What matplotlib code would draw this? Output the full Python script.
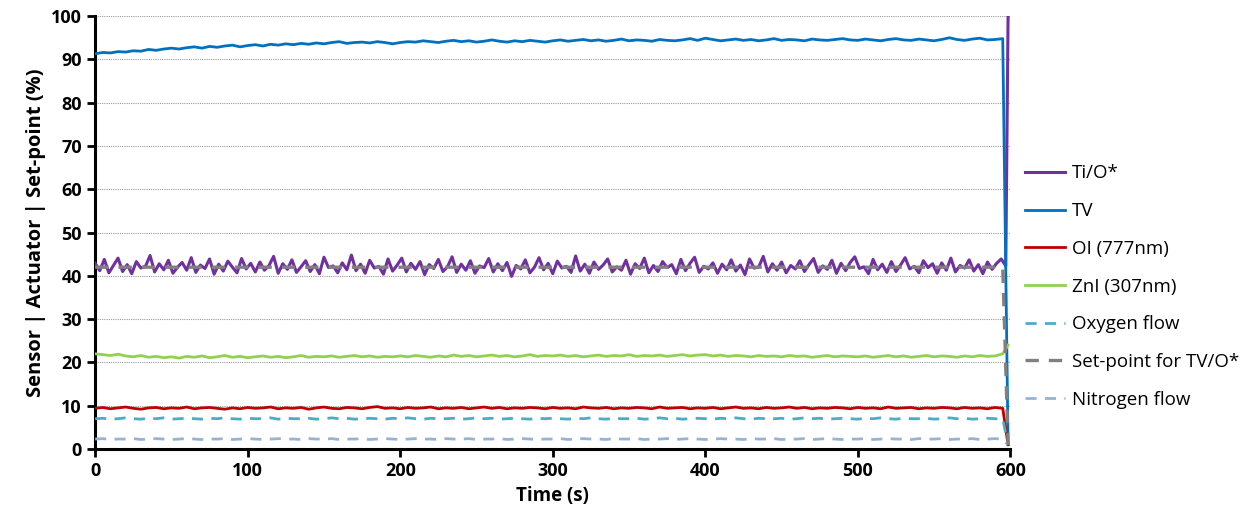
import numpy as np
import matplotlib.pyplot as plt

plt.rcParams['font.family'] = ['Open Sans', 'DejaVu Sans']

# time bases (s); the Ti/O* trace is logged more densely
t = np.arange(0, 600, 5)
t_ti = np.arange(0, 600, 3)
t_end = 598.5

ti_o = [42.9, 41.2, 43.8, 40.7, 42.4, 44.1, 41.0, 42.6, 40.5, 43.3, 41.8, 42.2, 44.7, 40.9, 42.8, 41.4, 43.6, 40.6, 42.0, 43.1,
        41.3, 44.2, 40.8, 42.5, 41.7, 43.9, 40.4, 42.7, 41.1, 43.4, 42.0, 40.7, 44.0, 41.6, 42.9, 40.9, 43.2, 41.3, 42.4, 44.5,
        40.6, 42.8, 41.5, 43.7, 40.8, 42.1, 43.5, 41.0, 42.6, 40.5, 44.3, 41.9, 42.3, 40.7, 43.0, 41.4, 44.8, 41.2, 42.7, 40.6,
        43.6, 41.8, 42.2, 40.4, 43.9, 41.1, 42.5, 44.1, 40.9, 42.9, 41.5, 43.3, 40.3, 42.6, 41.7, 43.8, 41.0, 42.1, 44.4, 40.8,
        42.7, 41.3, 43.5, 40.6, 42.3, 41.9, 44.0, 40.9, 42.8, 41.2, 43.1, 39.9, 42.4, 41.6, 43.7, 40.7, 42.0, 44.2, 41.4, 42.9,
        40.5, 43.4, 41.8, 42.2, 40.8, 44.6, 41.1, 42.7, 40.6, 43.2, 41.5, 42.5, 43.9, 40.9, 42.1, 41.3, 43.6, 40.4, 42.8, 41.7,
        44.1, 40.7, 42.4, 41.0, 43.3, 41.9, 42.6, 40.5, 43.8, 41.2, 42.9, 44.3, 40.8, 42.2, 41.6, 43.0, 40.6, 42.7, 41.4, 43.7,
        41.1, 42.5, 40.3, 43.9, 41.8, 42.0, 44.5, 40.9, 42.8, 41.3, 43.2, 40.7, 42.4, 41.6, 43.5, 41.0, 42.6, 44.0, 40.8, 42.3,
        41.5, 43.6, 40.6, 42.9, 41.2, 43.1, 44.4, 41.7, 42.1, 40.5, 43.8, 41.4, 42.7, 40.8, 43.3, 41.0, 42.5, 44.2, 41.6, 42.2,
        40.7, 43.5, 41.9, 42.8, 40.6, 43.0, 41.3, 44.1, 40.9, 42.4, 41.8, 43.7, 41.1, 42.6, 40.5, 43.2, 41.5, 42.9, 43.9, 42.3]
tv = [91.3, 91.6, 91.5, 91.8, 91.7, 92.0, 91.9, 92.3, 92.1, 92.4, 92.6, 92.4, 92.7, 92.9, 92.6, 93.0, 92.8, 93.1, 93.3, 92.9,
      93.2, 93.4, 93.1, 93.5, 93.3, 93.6, 93.4, 93.7, 93.5, 93.8, 93.6, 93.9, 94.1, 93.7, 93.9, 94.0, 93.8, 94.1, 93.9, 93.6,
      93.9, 94.1, 94.0, 94.3, 94.1, 93.9, 94.2, 94.4, 94.1, 94.3, 94.0, 94.2, 94.5, 94.2, 94.0, 94.3, 94.1, 94.4, 94.2, 94.0,
      94.3, 94.5, 94.2, 94.4, 94.6, 94.3, 94.5, 94.2, 94.4, 94.7, 94.3, 94.5, 94.4, 94.2, 94.6, 94.4, 94.3, 94.5, 94.8, 94.4,
      94.9, 94.6, 94.3, 94.5, 94.7, 94.4, 94.6, 94.3, 94.5, 94.8, 94.4, 94.6, 94.5, 94.3, 94.7, 94.5, 94.4, 94.6, 94.8, 94.5,
      94.4, 94.7, 94.5, 94.3, 94.6, 94.8, 94.5, 94.4, 94.7, 94.5, 94.3, 94.6, 95.0, 94.6, 94.4, 94.7, 94.9, 94.5, 94.6, 94.8]
oi_777 = [9.4, 9.6, 9.3, 9.5, 9.7, 9.4, 9.2, 9.5, 9.6, 9.3, 9.5, 9.4, 9.7, 9.3, 9.5, 9.6, 9.4, 9.2, 9.5, 9.3,
          9.6, 9.4, 9.5, 9.7, 9.3, 9.5, 9.4, 9.6, 9.2, 9.5, 9.7, 9.4, 9.3, 9.6, 9.5, 9.3, 9.6, 9.8, 9.4, 9.5,
          9.3, 9.6, 9.4, 9.5, 9.7, 9.3, 9.5, 9.4, 9.6, 9.3, 9.5, 9.7, 9.4, 9.6, 9.3, 9.5, 9.4, 9.6, 9.5, 9.3,
          9.6, 9.4, 9.5, 9.3, 9.7, 9.5, 9.4, 9.6, 9.3, 9.5, 9.4, 9.6, 9.5, 9.3, 9.7, 9.4, 9.5, 9.6, 9.3, 9.5,
          9.4, 9.6, 9.3, 9.5, 9.7, 9.4, 9.5, 9.3, 9.6, 9.4, 9.5, 9.7, 9.4, 9.6, 9.3, 9.5, 9.4, 9.6, 9.5, 9.3,
          9.6, 9.4, 9.5, 9.3, 9.7, 9.4, 9.5, 9.6, 9.3, 9.5, 9.4, 9.6, 9.5, 9.3, 9.6, 9.4, 9.5, 9.3, 9.6, 9.4]
zn_307 = [22.0, 21.8, 21.6, 21.9, 21.5, 21.3, 21.6, 21.2, 21.4, 21.1, 21.3, 21.0, 21.4, 21.2, 21.5, 21.1, 21.3, 21.6, 21.2, 21.4,
          21.1, 21.3, 21.5, 21.2, 21.4, 21.1, 21.3, 21.6, 21.2, 21.4, 21.3, 21.5, 21.2, 21.4, 21.6, 21.3, 21.5, 21.2, 21.4, 21.3,
          21.5, 21.3, 21.6, 21.4, 21.2, 21.5, 21.3, 21.7, 21.4, 21.6, 21.3, 21.5, 21.7, 21.4, 21.6, 21.3, 21.5, 21.8, 21.4, 21.6,
          21.5, 21.7, 21.4, 21.6, 21.3, 21.5, 21.7, 21.4, 21.6, 21.5, 21.8, 21.4, 21.6, 21.5, 21.7, 21.4, 21.6, 21.8, 21.5, 21.7,
          21.8, 21.5, 21.7, 21.4, 21.6, 21.5, 21.3, 21.6, 21.4, 21.5, 21.3, 21.6, 21.4, 21.5, 21.2, 21.4, 21.6, 21.3, 21.5, 21.4,
          21.3, 21.5, 21.2, 21.4, 21.6, 21.3, 21.5, 21.2, 21.4, 21.6, 21.3, 21.5, 21.4, 21.2, 21.5, 21.3, 21.6, 21.4, 21.5, 22.0]
oxygen = [7.0, 7.1, 6.9, 7.0, 7.2, 7.0, 6.9, 7.1, 7.0, 7.2, 6.9, 7.0, 7.1, 7.0, 6.9, 7.1, 7.0, 7.2, 7.0, 6.9,
          7.1, 7.0, 7.0, 7.2, 6.9, 7.1, 7.0, 7.0, 7.1, 6.9, 7.0, 7.2, 7.0, 7.1, 6.9, 7.0, 7.1, 7.0, 6.9, 7.1,
          7.0, 7.2, 7.0, 6.9, 7.1, 7.0, 7.0, 7.1, 6.9, 7.0, 7.2, 7.0, 7.1, 6.9, 7.0, 7.1, 7.0, 6.9, 7.1, 7.0,
          7.1, 7.0, 6.9, 7.1, 7.0, 7.2, 7.0, 6.9, 7.1, 7.0, 7.0, 7.1, 6.9, 7.0, 7.2, 7.0, 7.1, 6.9, 7.0, 7.1,
          7.0, 6.9, 7.1, 7.0, 7.2, 7.0, 6.9, 7.1, 7.0, 7.0, 7.1, 6.9, 7.0, 7.2, 7.0, 7.1, 6.9, 7.0, 7.1, 7.0,
          6.9, 7.1, 7.0, 7.2, 7.0, 6.9, 7.1, 7.0, 7.0, 7.1, 6.9, 7.0, 7.2, 7.0, 7.1, 6.9, 7.0, 7.1, 7.0, 7.0]
nitrogen = [2.3, 2.4, 2.2, 2.3, 2.3, 2.4, 2.2, 2.3, 2.4, 2.3, 2.2, 2.3, 2.4, 2.3, 2.2, 2.3, 2.3, 2.4, 2.2, 2.3,
            2.4, 2.3, 2.2, 2.3, 2.4, 2.3, 2.3, 2.2, 2.4, 2.3, 2.3, 2.4, 2.2, 2.3, 2.3, 2.4, 2.2, 2.3, 2.4, 2.3,
            2.2, 2.3, 2.4, 2.3, 2.3, 2.2, 2.4, 2.3, 2.3, 2.4, 2.2, 2.3, 2.3, 2.4, 2.2, 2.3, 2.4, 2.3, 2.2, 2.3,
            2.3, 2.4, 2.2, 2.3, 2.4, 2.3, 2.3, 2.2, 2.4, 2.3, 2.3, 2.4, 2.2, 2.3, 2.3, 2.4, 2.2, 2.3, 2.4, 2.3,
            2.2, 2.3, 2.4, 2.3, 2.3, 2.2, 2.4, 2.3, 2.3, 2.4, 2.2, 2.3, 2.3, 2.4, 2.2, 2.3, 2.4, 2.3, 2.2, 2.3,
            2.3, 2.4, 2.2, 2.3, 2.4, 2.3, 2.3, 2.2, 2.4, 2.3, 2.3, 2.4, 2.2, 2.3, 2.3, 2.4, 2.2, 2.3, 2.4, 2.3]
setpoint = 42.0

# values of each trace at the final sample (shutdown just before 600 s)
end_vals = {'ti_o': 100.0, 'tv': 1.0, 'oi': 1.0, 'zn': 24.0, 'ox': 1.0, 'sp': 1.0, 'n2': 1.0}

labels = ['Ti/O*', 'TV', 'OI (777nm)', 'ZnI (307nm)', 'Oxygen flow',
          'Set-point for TV/O*', 'Nitrogen flow']

fig = plt.figure(figsize=(12.52, 5.2), dpi=100)
ax = fig.add_axes([0.076, 0.1365, 0.731, 0.8325])

tt = np.append(t, t_end)
sp = np.append(np.full(len(t), setpoint), end_vals['sp'])

lw = 2.0
dash = (4, 3)
l_sp, = ax.plot(tt, sp, color='#808080', lw=2.4, dashes=dash, zorder=4)
l_ti, = ax.plot(np.append(t_ti, t_end), np.append(ti_o, end_vals['ti_o']), color='#7030A0', lw=2.2, zorder=3)
l_tv, = ax.plot(tt, np.append(tv, end_vals['tv']), color='#0070C0', lw=lw, zorder=3)
l_oi, = ax.plot(tt, np.append(oi_777, end_vals['oi']), color='#C00000', lw=lw, zorder=3)
l_zn, = ax.plot(tt, np.append(zn_307, end_vals['zn']), color='#92D050', lw=lw, zorder=3)
l_ox, = ax.plot(tt, np.append(oxygen, end_vals['ox']), color='#4BACC6', lw=lw, dashes=dash, zorder=3)
l_n2, = ax.plot(tt, np.append(nitrogen, end_vals['n2']), color='#95B3D7', lw=lw, dashes=dash, zorder=3)

ax.set_xlim(0, 600)
ax.set_ylim(0, 100)
ax.set_xticks(np.arange(0, 601, 100))
ax.set_yticks(np.arange(0, 101, 10))
ax.yaxis.grid(True, color='#9a9a9a', ls=(0, (1, 1)), lw=0.8)
ax.set_axisbelow(True)
for s in ['top', 'right']:
    ax.spines[s].set_visible(False)
for s in ['left', 'bottom']:
    ax.spines[s].set_linewidth(2.2)
ax.tick_params(axis='both', direction='out', length=6, width=2, labelsize=13)
for lab in ax.get_xticklabels() + ax.get_yticklabels():
    lab.set_fontweight('bold')

ax.set_xlabel('Time (s)', fontsize=13.5, fontweight='bold')
ax.set_ylabel('Sensor | Actuator | Set-point (%)', fontsize=14.5, fontweight='bold')

fig.legend([l_ti, l_tv, l_oi, l_zn, l_ox, l_sp, l_n2], labels,
           loc='center left', bbox_to_anchor=(0.816, 0.449), frameon=False,
           fontsize=13.5, handlelength=2.1, labelspacing=1.05, handletextpad=0.4,
           borderaxespad=0, borderpad=0.2)

fig.savefig('out.png', dpi=100)
